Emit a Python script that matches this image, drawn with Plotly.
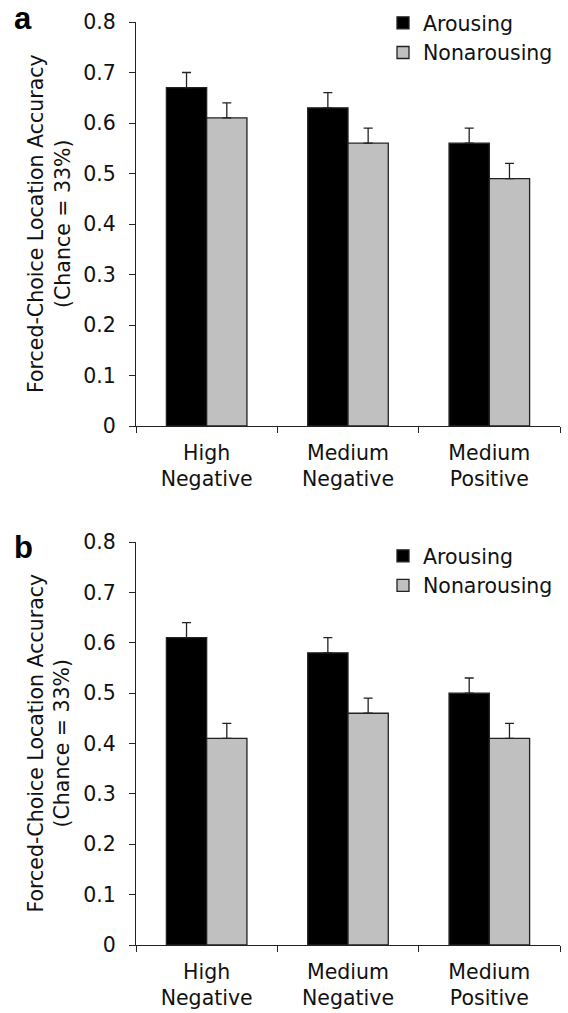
import plotly.graph_objects as go
from plotly.subplots import make_subplots

categories = ["High<br>Negative", "Medium<br>Negative", "Medium<br>Positive"]
series_names = ["Arousing", "Nonarousing"]
a_arousing = [0.67, 0.63, 0.56]
a_nonarousing = [0.61, 0.56, 0.49]
a_arousing_err = [0.03, 0.03, 0.03]
a_nonarousing_err = [0.03, 0.03, 0.03]
b_arousing = [0.61, 0.58, 0.50]
b_nonarousing = [0.41, 0.46, 0.41]
b_arousing_err = [0.03, 0.03, 0.03]
b_nonarousing_err = [0.03, 0.03, 0.03]
y_ticks = [0, 0.1, 0.2, 0.3, 0.4, 0.5, 0.6, 0.7, 0.8]
y_tick_text = ["0", "0.1", "0.2", "0.3", "0.4", "0.5", "0.6", "0.7", "0.8"]
panel_labels = ["a", "b"]
y_title = "Forced-Choice Location Accuracy<br>(Chance = 33%)"

FONT = "DejaVu Sans"
TXT = "#111111"
colors = ["#000000", "#c0c0c0"]
W, H = 568, 1013

fig = make_subplots(rows=2, cols=1)

panels = [
    (a_arousing, a_arousing_err, a_nonarousing, a_nonarousing_err, "legend", 1),
    (b_arousing, b_arousing_err, b_nonarousing, b_nonarousing_err, "legend2", 2),
]
for (ar, are, nar, nare, leg, row) in panels:
    for i, (vals, errs) in enumerate([(ar, are), (nar, nare)]):
        fig.add_trace(
            go.Bar(
                x=categories, y=vals, name=series_names[i],
                marker=dict(color=colors[i], line=dict(color="#222222", width=1.3)),
                error_y=dict(type="data", array=errs, arrayminus=[0] * len(errs),
                             symmetric=False, color="#222222", thickness=1.3, width=4.5),
                legend=leg, legendgroup=f"{leg}{i}",
            ),
            row=row, col=1,
        )

x_dom = [136 / W, 560 / W]
tops_bottoms = [(22, 426), (542, 945)]
doms = [[1 - b / H, 1 - t / H] for (t, b) in tops_bottoms]
for k, r in enumerate([1, 2]):
    fig.update_xaxes(
        row=r, col=1, domain=x_dom, range=[-0.5, 2.5], type="category",
        showline=True, linecolor="#222222", linewidth=1.3,
        ticks="outside", ticklen=6, tickwidth=1.3, tickcolor="#222222",
        tickson="boundaries", showgrid=False, zeroline=False, automargin=False,
        ticklabelstandoff=8,
        tickfont=dict(family=FONT, size=20.5, color=TXT),
    )
    fig.update_yaxes(
        row=r, col=1, domain=doms[k], range=[0, 0.8],
        tickvals=y_ticks, ticktext=y_tick_text,
        showline=True, linecolor="#222222", linewidth=1.3,
        ticks="outside", ticklen=6, tickwidth=1.3, tickcolor="#222222",
        showgrid=False, zeroline=False, automargin=False,
        ticklabelstandoff=9,
        tickfont=dict(family=FONT, size=20.5, color=TXT),
    )
    t, b = tops_bottoms[k]
    fig.add_annotation(
        text=y_title, textangle=-90, x=49 / W, y=1 - (t + b) / 2 / H,
        xref="paper", yref="paper", xanchor="center", yanchor="middle",
        showarrow=False, font=dict(family=FONT, size=20.5, color=TXT),
    )

leg_common = dict(
    xanchor="left", yanchor="top", bgcolor="rgba(0,0,0,0)",
    font=dict(family=FONT, size=20.5, color=TXT),
    tracegroupgap=0, traceorder="grouped",
)
fig.update_layout(
    legend=dict(x=383 / W, y=1 - 3 / H, **leg_common),
    legend2=dict(x=383 / W, y=1 - 536 / H, **leg_common),
)

for lbl, ypx in zip(panel_labels, [18.5, 547]):
    fig.add_annotation(
        text=f"<b>{lbl}</b>", x=12 / W, y=1 - ypx / H, xref="paper", yref="paper",
        xanchor="left", yanchor="middle", showarrow=False,
        font=dict(family="Liberation Sans", size=31, color="#000000"),
    )

fig.update_layout(
    width=W, height=H, margin=dict(l=0, r=0, t=0, b=0, autoexpand=False),
    paper_bgcolor="white", plot_bgcolor="white",
    barmode="group", bargap=0.43, bargroupgap=0,
    showlegend=True,
)
fig.write_html(
    "out.html",
    config={"displayModeBar": False},
    post_script="document.body.style.margin='0';document.body.style.overflow='hidden';",
)
